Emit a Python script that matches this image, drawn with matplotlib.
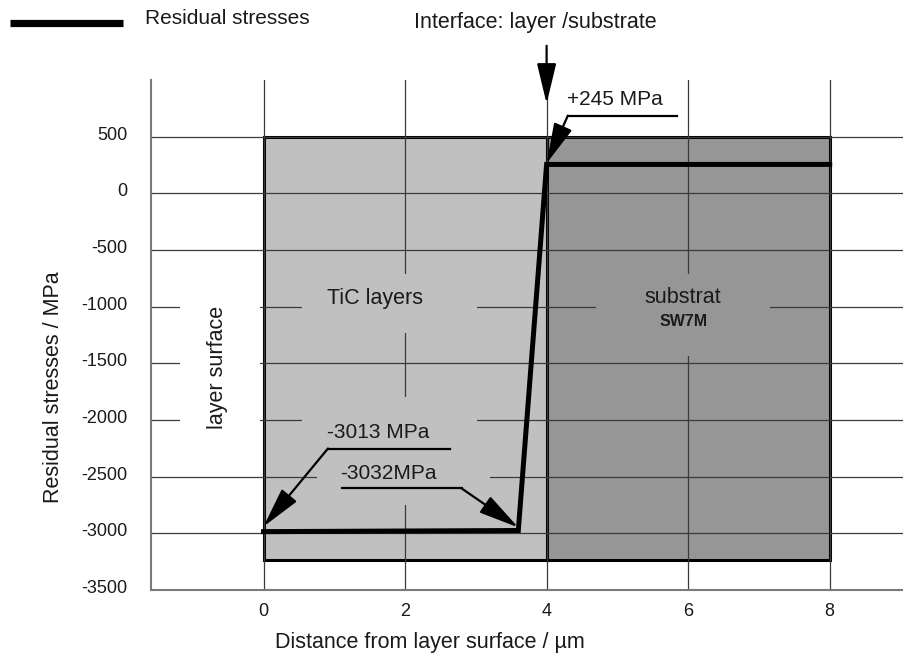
import matplotlib
matplotlib.use("Agg")
import matplotlib.pyplot as plt
import matplotlib.transforms as mtransforms
from matplotlib.patches import Rectangle
from matplotlib.lines import Line2D

plt.rcParams['font.family'] = ['Liberation Sans', 'DejaVu Sans']
plt.rcParams['axes.unicode_minus'] = False

# residual stress profile through the coating
depth = [0.0, 3.6, 4.0, 8.0]
stress = [-2985, -2975, 255, 255]

# shaded regions
layer_x = (0.0, 4.0)
substrate_x = (4.0, 8.0)
region_y = (-3235, 500)

x_ticks = [0, 2, 4, 6, 8]
y_ticks = [500, 0, -500, -1000, -1500, -2000, -2500, -3000, -3500]

LIGHT = '#c0c0c0'
DARK = '#969696'
GRID = '#3a3a3a'
TXT = '#1a1a1a'

fig = plt.figure(figsize=(9.04, 6.55), dpi=100)
ax = fig.add_axes([151 / 904, 65 / 655, 753 / 904, 510 / 655])

ax.set_xlim(-1.59, 9.05)
ax.set_ylim(-3500, 1000)

ax.add_patch(Rectangle((layer_x[0], region_y[0]), layer_x[1] - layer_x[0],
                       region_y[1] - region_y[0], fc=LIGHT, ec='black', lw=2.2, zorder=1))
ax.add_patch(Rectangle((substrate_x[0], region_y[0]), substrate_x[1] - substrate_x[0],
                       region_y[1] - region_y[0], fc=DARK, ec='black', lw=2.2, zorder=1))

# grid
for xv in x_ticks:
    ax.axvline(xv, color=GRID, lw=0.9, zorder=2)
for yv in y_ticks[:-1]:
    ax.axhline(yv, color=GRID, lw=0.9, zorder=2)

# masks that break the grid around the labels (x0, x1, y0, y1, colour)
masks = [
    (0.55, 3.02, -1228, -708, LIGHT),
    (4.70, 7.16, -1431, -708, DARK),
    (-1.18, -0.05, -2180, -815, 'white'),
    (0.55, 3.02, -2313, -1800, LIGHT),
    (0.76, 3.20, -2754, -2313, LIGHT),
]
for x0, x1, y0, y1, c in masks:
    ax.add_patch(Rectangle((x0, y0), x1 - x0, y1 - y0, fc=c, ec='none', zorder=3))

ax.plot(depth, stress, color='black', lw=3.6, solid_joinstyle='miter', zorder=5)

# spines / ticks
for s in ['top', 'right']:
    ax.spines[s].set_visible(False)
for s in ['left', 'bottom']:
    ax.spines[s].set_color('#7a7a7a')
    ax.spines[s].set_linewidth(1.5)
ax.set_xticks(x_ticks)
ax.set_yticks(y_ticks)
ax.tick_params(axis='y', length=0, pad=17, labelsize=13, colors=TXT)
ax.tick_params(axis='x', length=0, pad=9, labelsize=13, colors=TXT)
shift = mtransforms.ScaledTranslation(0, 3.5 / 100, fig.dpi_scale_trans)
for lab in ax.get_yticklabels():
    lab.set_transform(lab.get_transform() + shift)

ax.set_ylabel('Residual stresses / MPa', fontsize=15.5, color=TXT, va='center')
ax.yaxis.set_label_coords(-0.130, 0.398)
ax.set_xlabel('Distance from layer surface / µm', fontsize=15.5, color=TXT, va='center')
ax.xaxis.set_label_coords(0.37, -0.102)

# region labels
ax.text(1.58, -929, 'TiC layers', fontsize=15.5, ha='center', va='center', color=TXT, zorder=6)
ax.text(5.93, -920, 'substrat', fontsize=15.5, ha='center', va='center', color=TXT, zorder=6)
ax.text(5.93, -1131, 'SW7M', fontsize=11.5, fontweight='bold', ha='center', va='center',
        color=TXT, zorder=6)
ax.text(-0.654, -1537, 'layer surface', fontsize=15.5, rotation=90, ha='center', va='center',
        color=TXT, zorder=6)

# annotations: label, text pos, underline start, underline end, arrow tip
notes = [
    ('-3013 MPa', (1.625, -2112), (2.64, -2252), (0.91, -2252), (0.0, -2940)),
    ('-3032MPa', (1.76, -2474), (1.11, -2604), (2.80, -2604), (3.6, -2948)),
    ('+245 MPa', (4.97, 826), (5.84, 685), (4.30, 685), (4.0, 265)),
]
for label, tpos, p0, p1, tip in notes:
    ax.text(tpos[0], tpos[1], label, fontsize=15, ha='center', va='center',
            color=TXT, zorder=6, clip_on=False)
    ax.plot([p0[0], p1[0]], [p0[1], p1[1]], color='black', lw=1.6, zorder=6, clip_on=False)
    ax.annotate('', xy=tip, xytext=p1, zorder=7, annotation_clip=False,
                arrowprops=dict(arrowstyle='-|>,head_length=1.25,head_width=0.3',
                                mutation_scale=20, color='black', lw=1.6,
                                shrinkA=0, shrinkB=0))

ax.text(3.84, 1505, 'Interface: layer /substrate', fontsize=15.5, ha='center', va='center',
        color=TXT, clip_on=False)
ax.annotate('', xy=(4.0, 791), xytext=(4.0, 1302), annotation_clip=False, zorder=7,
            arrowprops=dict(arrowstyle='-|>,head_length=1.25,head_width=0.3',
                            mutation_scale=20, color='black', lw=1.6,
                            shrinkA=0, shrinkB=0))

# legend entry drawn at figure level, line sits a little below the text centre
fig.add_artist(Line2D([10 / 904, 123 / 904], [1 - 23 / 655, 1 - 23 / 655],
                      color='black', lw=5.2, solid_capstyle='butt'))
fig.text(145 / 904, 1 - 18 / 655, 'Residual stresses', fontsize=15, color=TXT,
         ha='left', va='center')

fig.savefig('out.png', dpi=100)
